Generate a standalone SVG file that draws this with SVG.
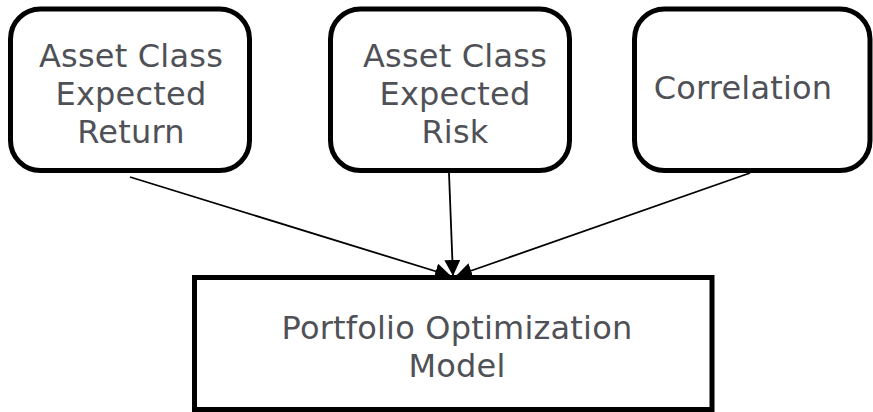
<svg xmlns="http://www.w3.org/2000/svg" width="873" height="412" viewBox="0 0 873 412">
<style>
.box{fill:#fff;stroke:#000;stroke-width:5}
.lbl{font-family:"DejaVu Sans",Verdana,sans-serif;font-size:32px;letter-spacing:0.2px;fill:#4f5157;text-anchor:middle}
.conn{stroke:#000;stroke-width:1.8;fill:none;marker-end:url(#ah)}
</style>
<defs>
<marker id="ah" markerUnits="userSpaceOnUse" markerWidth="18" markerHeight="16" refX="16" refY="8" orient="auto">
<path d="M0,0 L16,8 L0,16 Z" fill="#000"/>
</marker>
</defs>
<rect width="873" height="412" fill="#fff"/>
<g id="connectors">
<line class="conn" x1="130" y1="177" x2="451" y2="276"/>
<line class="conn" x1="449" y1="173" x2="453" y2="276"/>
<line class="conn" x1="750" y1="173" x2="456" y2="276"/>
</g>
<g id="node-return">
<rect class="box" x="10.5" y="9" width="239" height="161.5" rx="30"/>
<text class="lbl" x="131" y="67">Asset Class</text>
<text class="lbl" x="131" y="105">Expected</text>
<text class="lbl" x="131" y="143">Return</text>
</g>
<g id="node-risk">
<rect class="box" x="330.5" y="9" width="239" height="161.5" rx="30"/>
<text class="lbl" x="455" y="67">Asset Class</text>
<text class="lbl" x="455" y="105">Expected</text>
<text class="lbl" x="455" y="143">Risk</text>
</g>
<g id="node-correlation">
<rect class="box" x="634.5" y="9" width="235.5" height="161.5" rx="30"/>
<text class="lbl" x="743" y="99">Correlation</text>
</g>
<g id="node-model">
<rect class="box" x="194.5" y="277.5" width="517.5" height="132"/>
<text class="lbl" x="457" y="339">Portfolio Optimization</text>
<text class="lbl" x="457" y="377">Model</text>
</g>
</svg>
